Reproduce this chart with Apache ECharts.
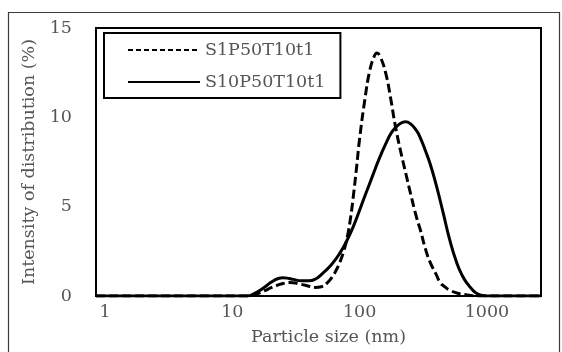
<!DOCTYPE html>
<html>
<head>
<meta charset="utf-8">
<script src="https://cdn.jsdelivr.net/npm/echarts@6/dist/echarts.min.js"></script>
<style>
  html, body { margin: 0; padding: 0; background: #fff; }
  #chart { width: 562px; height: 352px; }
</style>
</head>
<body>
<div id="chart"></div>
<script>
// 粒径分布数据 (nm, %)
var sizeS1 = [0.85, 1, 13, 15, 18, 20, 23, 25, 28, 30, 35, 40, 45, 50, 55, 60, 65, 70, 75, 80, 85, 90, 95, 100,
    110, 120, 130, 137, 145, 160, 175, 190, 210, 230, 250, 280, 300, 330, 360, 400, 430, 470, 520, 600, 700, 850, 2660];
var valS1 = [0, 0, 0, 0.08, 0.3, 0.45, 0.62, 0.7, 0.75, 0.74, 0.65, 0.55, 0.48, 0.52, 0.7, 1.0, 1.4, 1.9, 2.5, 3.3, 4.4, 5.8, 7.3, 8.8,
    11.0, 12.6, 13.4, 13.6, 13.4, 12.5, 11.1, 9.6, 8.1, 6.9, 5.8, 4.4, 3.7, 2.6, 1.85, 1.2, 0.75, 0.5, 0.3, 0.14, 0.06, 0, 0];

var sizeS10 = [0.85, 1, 13, 15, 18, 20, 23, 25, 28, 30, 35, 40, 45, 50, 60, 70, 80, 90, 100,
    110, 120, 130, 140, 160, 180, 200, 228, 250, 280, 300, 330, 360, 400, 450, 510, 580, 640, 700, 780, 830, 900, 1000, 2660];
var valS10 = [0, 0, 0, 0.15, 0.5, 0.75, 0.98, 1.02, 0.98, 0.93, 0.85, 0.85, 0.95, 1.2, 1.75, 2.4, 3.15, 3.95, 4.8,
    5.6, 6.3, 6.95, 7.55, 8.5, 9.2, 9.55, 9.75, 9.65, 9.25, 8.85, 8.1, 7.35, 6.2, 4.75, 3.15, 1.85, 1.15, 0.7, 0.3, 0.15, 0.04, 0, 0];

var seriesNames = ['S1P50T10t1', 'S10P50T10t1'];
var xMin = 0.85, xMax = 2660;
var yTicks = [0, 5, 10, 15];

function toPairs(xs, ys) {
    var arr = [];
    for (var i = 0; i < xs.length; i++) {
        arr.push([xs[i], ys[i]]);
    }
    return arr;
}

var chart = echarts.init(document.getElementById('chart'));
var font = '"DejaVu Serif", "Liberation Serif", serif';
var txtColor = '#555';
var fs = 17.5;

var option = {
    animation: false,
    grid: {
        left: 96, right: 21, top: 28, bottom: 56,
        show: true,
        borderColor: '#000',
        borderWidth: 2
    },
    // 外框
    graphic: [{
        type: 'rect',
        shape: { x: 8.5, y: 12.5, width: 551, height: 360 },
        style: { fill: 'none', stroke: '#3a3a3a', lineWidth: 1.2 },
        silent: true
    }],
    legend: {
        orient: 'vertical',
        left: 104, top: 33,
        padding: [7, 15, 6, 23],
        itemGap: 12,
        itemWidth: 72,
        itemHeight: 14,
        borderColor: '#000',
        borderWidth: 2,
        itemStyle: { opacity: 0 },
        textStyle: { fontFamily: font, fontSize: fs, color: txtColor, lineHeight: 20 },
        data: [
            { name: seriesNames[0], lineStyle: { type: [5, 3], width: 2, opacity: 1 } },
            { name: seriesNames[1], lineStyle: { width: 2, opacity: 1 } }
        ]
    },
    xAxis: {
        type: 'log',
        logBase: 10,
        min: xMin,
        max: xMax,
        name: 'Particle size (nm)',
        nameLocation: 'middle',
        nameGap: 32,
        nameTextStyle: { fontFamily: font, fontSize: fs, color: txtColor, padding: [0, 0, 0, 20] },
        axisLine: { show: false },
        axisTick: { show: false },
        splitLine: { show: false },
        axisLabel: {
            margin: 7,
            fontFamily: font, fontSize: fs, color: txtColor,
            formatter: function (v) {
                var e = Math.log10(v);
                return Math.abs(e - Math.round(e)) < 1e-6 ? String(Math.round(v)) : '';
            }
        }
    },
    yAxis: {
        type: 'value',
        min: yTicks[0],
        max: yTicks[yTicks.length - 1],
        interval: 5,
        name: 'Intensity of distribution (%)',
        nameLocation: 'middle',
        nameGap: 56,
        nameTextStyle: { fontFamily: font, fontSize: fs, color: txtColor },
        axisLine: { show: false },
        axisTick: { show: false },
        splitLine: { show: false },
        axisLabel: { margin: 24, fontFamily: font, fontSize: fs, color: txtColor }
    },
    series: [
        {
            name: seriesNames[0],
            type: 'line',
            data: toPairs(sizeS1, valS1),
            symbol: 'none',
            smooth: 0.5,
            lineStyle: { color: '#000', width: 3, type: [9, 4] },
            itemStyle: { color: '#000' }
        },
        {
            name: seriesNames[1],
            type: 'line',
            data: toPairs(sizeS10, valS10),
            symbol: 'none',
            smooth: 0.5,
            lineStyle: { color: '#000', width: 3 },
            itemStyle: { color: '#000' }
        }
    ]
};

chart.setOption(option);
</script>
</body>
</html>
